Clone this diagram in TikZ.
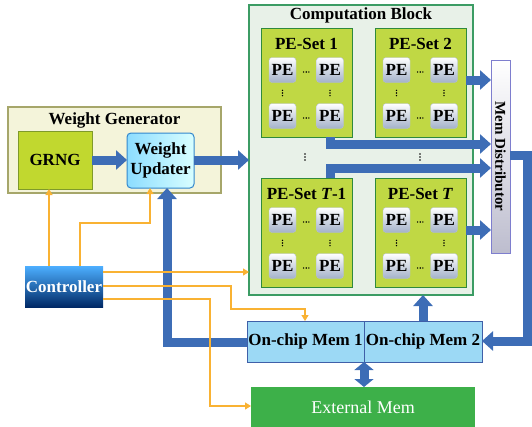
\documentclass[tikz,border=0pt]{standalone}
\usepackage{fontspec}
\setmainfont{Liberation Serif}
\usetikzlibrary{arrows.meta,calc}
\definecolor{bluearr}{HTML}{3D6DB6}
\definecolor{orng}{HTML}{F9B233}
\definecolor{wgfill}{HTML}{F4F4DA}
\definecolor{wgdraw}{HTML}{A6A66A}
\definecolor{grngfill}{HTML}{C1D82F}
\definecolor{grngdraw}{HTML}{7F9A2A}
\definecolor{cbfill}{HTML}{E8F1E8}
\definecolor{cbdraw}{HTML}{3C9C64}
\definecolor{psfill}{HTML}{C0D844}
\definecolor{psdraw}{HTML}{2F8A3C}
\definecolor{memfill}{HTML}{9CD9F5}
\definecolor{memdraw}{HTML}{3F5FA8}
\definecolor{extfill}{HTML}{3DB049}
\definecolor{pebot}{HTML}{A3B1C9}
\definecolor{pedraw}{HTML}{B4C0D4}
\tikzset{
  box/.style={inner sep=0pt, outer sep=0pt, anchor=north west},
  lbl/.style={font=\fontsize{17}{19}\selectfont\bfseries},
  pesetbox/.style={box, draw=psdraw, fill=psfill, line width=1pt, minimum width=91pt, minimum height=109pt},
  settitle/.style={lbl, inner sep=0pt},
  pe/.style={inner sep=0pt, minimum width=27pt, minimum height=25pt, rounded corners=3pt,
    top color=white, bottom color=pebot, draw=pedraw, font=\fontsize{17}{18}\selectfont\bfseries},
  thk/.style={draw=bluearr, line width=9pt, -{Triangle[width=19pt,length=11pt]}},
  dbl/.style={draw=bluearr, line width=9pt, {Triangle[width=19pt,length=8pt]}-{Triangle[width=19pt,length=8pt]}},
  oarr/.style={draw=orng, line width=1.2pt, -{Triangle[width=7pt,length=6pt]}},
}
\newcommand\peset[4]{%
  \node[pesetbox] (#1) at (#2,#3) {};
  \node[settitle] (#1t) at (#2+45.5,#3+16) {#4};
  \node[pe] (#1a) at (#2+21.5,#3+42) {PE};
  \node[pe] (#1b) at (#2+69,#3+42) {PE};
  \node[pe] (#1c) at (#2+21.5,#3+88) {PE};
  \node[pe] (#1d) at (#2+69,#3+88) {PE};
  \foreach \dd in {-2.6,0,2.6}{%
    \fill (#2+45.25+\dd,#3+44) circle (0.8);
    \fill (#2+45.25+\dd,#3+90) circle (0.8);
    \fill (#2+21.5,#3+65+\dd) circle (0.8);
    \fill (#2+69,#3+65+\dd) circle (0.8);}
}
\begin{document}
\begin{tikzpicture}[x=1pt,y=-1pt]
\useasboundingbox (0,0) rectangle (532,426);

% Weight generator
\node[box, draw=wgdraw, fill=wgfill, line width=1.2pt, minimum width=213pt, minimum height=86pt] (wg) at (8,107) {};
\node[lbl] (wgt) at (114.5,120) {Weight Generator};
\node[box, draw=grngdraw, fill=grngfill, line width=1pt, minimum width=74pt, minimum height=58pt, lbl] (grng) at (18,131) {GRNG};
\node[box, draw=blue!45!cyan!60!gray, left color=blue!30!cyan!45, right color=cyan!15, rounded corners=4pt, line width=1pt,
  minimum width=67pt, minimum height=55pt, align=center, font=\fontsize{17}{20}\selectfont\bfseries] (upd) at (127,133) {Weight\\Updater};

% Computation block
\node[box, draw=cbdraw, fill=cbfill, line width=1.2pt, minimum width=224pt, minimum height=290pt] (cb) at (249,5) {};
\node[lbl] (cbt) at (361,15) {Computation Block};
\peset{ps1}{261}{28}{PE-Set 1}
\peset{ps2}{375}{28}{PE-Set 2}
\peset{pst1}{261}{178}{PE-Set \textit{T}-1}
\peset{pst}{375}{178}{PE-Set \textit{T}}
\foreach \dd in {-3,0,3}{%
  \fill (305,157+\dd) circle (0.9);
  \fill (420,157+\dd) circle (0.9);}

% Mem distributor
\node[box, draw=blue!45!gray!70, top color=white, bottom color=blue!15!gray!45, line width=1pt, minimum width=19pt, minimum height=193pt] (md) at (491,60) {};
\node[rotate=-90, font=\fontsize{15}{17}\selectfont\bfseries] (mdt) at (md.center) {Mem Distributor};

% Controller
\node[box, top color=cyan!55!blue!70, bottom color=blue!60!cyan!40!black, minimum width=78pt, minimum height=41pt,
  text=white, lbl] (ctrl) at (25,266) {Controller};

% Memories
\node[box, draw=memdraw, fill=memfill, line width=1pt, minimum width=117pt, minimum height=41pt, lbl] (m1) at (247,321) {On-chip Mem 1};
\node[box, draw=memdraw, fill=memfill, line width=1pt, minimum width=118pt, minimum height=41pt, lbl] (m2) at (364,321) {On-chip Mem 2};
\node[box, fill=extfill, minimum width=224pt, minimum height=40pt, text=white, font=\fontsize{18}{20}\selectfont] (ext) at (251,387) {External Mem};

% Thick blue connectors
\draw[thk] (grng.east |- 0,160) -- (upd.west |- 0,160);
\draw[thk] (upd.east |- 0,160) -- (cb.west |- 0,160);
\draw[thk] (ps2.east |- 0,80) -- (md.west |- 0,80);
\draw[thk] (ps1.south -| 330,0) -- (330,144) -- (md.west |- 0,144);
\draw[thk] (pst1.north -| 330,0) -- (330,168) -- (md.west |- 0,168);
\draw[thk] (pst.east |- 0,230) -- (md.west |- 0,230);
\draw[thk] (md.east |- 0,155) -- (527,155) -- (527,341) -- (m2.east |- 0,341);
\draw[thk] (m2.north -| 423,0) -- (cb.south -| 423,0);
\draw[thk] (m1.west |- 0,342) -- (167,342) -- (upd.south -| 167,0);
\draw[dbl] (m1.south east) -- (ext.north -| m1.south east);

% Orange control lines
\draw[oarr] (ctrl.north -| 49,0) -- (grng.south -| 49,0);
\draw[oarr] (ctrl.north -| 80,0) -- (80,223) -- (150,223) -- (upd.south -| 150,0);
\draw[oarr] (ctrl.east |- 0,272) -- (cb.west |- 0,272);
\draw[oarr] (ctrl.east |- 0,286) -- (231,286) -- (231,309) -- (305,309) -- (m1.north -| 305,0);
\draw[oarr] (ctrl.east |- 0,299) -- (210,299) -- (210,406) -- (ext.west |- 0,406);
\end{tikzpicture}
\end{document}
